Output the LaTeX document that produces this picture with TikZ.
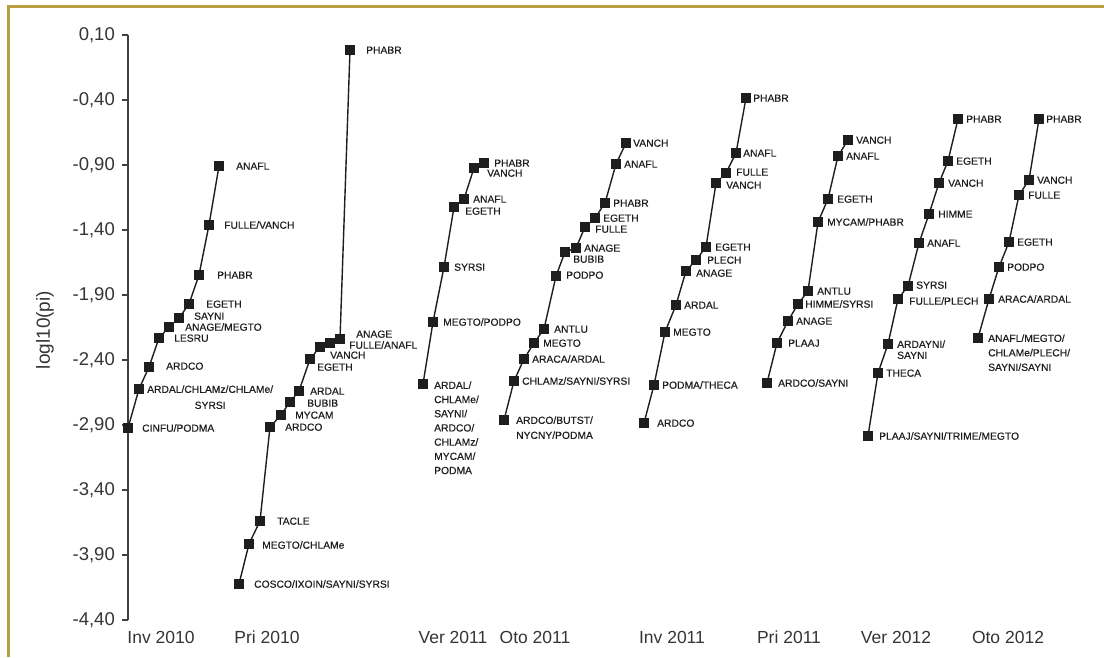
\documentclass[tikz,border=0pt]{standalone}
\usepackage{fontspec}
\setmainfont{Liberation Sans}
\newfontface\lbfont[FakeBold=0.4]{Liberation Sans}
\definecolor{gold}{RGB}{184,158,66}
\definecolor{ink}{RGB}{30,30,30}
\tikzset{
  mk/.style={rectangle, fill=ink, draw=none, minimum size=9.5pt, inner sep=0pt},
  lb/.style={anchor=west, inner sep=0pt, text=ink, text height=7.4pt, text depth=0pt,
             font=\lbfont\fontsize{10.3}{14.5}\selectfont},
  lbm/.style={anchor=north west, inner sep=0pt, text=ink, align=left,
             font=\lbfont\fontsize{10.3}{14.5}\selectfont},
  conn/.style={line width=1.4pt, draw=ink},
  ticklab/.style={anchor=east, inner sep=0pt, text=ink!90, font=\fontsize{18.5}{20}\selectfont},
  xlab/.style={anchor=center, inner sep=0pt, text=ink!90, font=\fontsize{17.5}{20}\selectfont},
}
\newcommand\mkp[6]{\node[mk] (#1) at (#2,#3) {}; \node[lb] (#1l) at (#4,#5) {#6};}
\begin{document}
\begin{tikzpicture}[x=1pt,y=-1pt]
\useasboundingbox[fill=white] (0,0) rectangle (1104,657);
% frame
\draw[gold, line width=3pt] (8.5,657) -- (8.5,6.5) -- (1104,6.5);
% axis
\coordinate (axtop) at (128,35);
\coordinate (axbot) at (128,620);
\draw[line width=1.3pt, ink!85] (axtop) -- (axbot);
\foreach \k/\v in {0/{0,10},1/{-0,40},2/{-0,90},3/{-1,40},4/{-1,90},5/{-2,40},6/{-2,90},7/{-3,40},8/{-3,90},9/{-4,40}}{
  \draw[line width=1.3pt, ink!85] (122,35+65*\k) -- (128,35+65*\k);
  \node[ticklab] (tick\k) at (115,35+65*\k) {\v};
}
\node[xlab, rotate=90, font=\fontsize{19}{21}\selectfont] (ytitle) at (45,330) {logl10(pi)};
\node[xlab] (x1) at (161,637) {Inv 2010};
\node[xlab] (x2) at (267,637) {Pri 2010};
\node[xlab] (x3) at (453,637) {Ver 2011};
\node[xlab] (x4) at (535,637) {Oto 2011};
\node[xlab] (x5) at (672,637) {Inv 2011};
\node[xlab] (x6) at (789,637) {Pri 2011};
\node[xlab] (x7) at (896,637) {Ver 2012};
\node[xlab] (x8) at (1008,637) {Oto 2012};

% Series 1 Inv 2010
\mkp{s1a}{128}{428}{142}{428}{CINFU/PODMA}
\node[mk] (s1b) at (139,389) {};
\node[lbm, align=center] (s1bl) at (147,385.2) {ARDAL/CHLAMz/CHLAMe/\\[1.5pt]SYRSI};
\mkp{s1c}{149}{367}{166}{366}{ARDCO}
\mkp{s1d}{159}{338}{174}{338}{LESRU}
\mkp{s1e}{169}{327}{185}{327}{ANAGE/MEGTO}
\mkp{s1f}{179}{318}{194}{316}{SAYNI}
\mkp{s1g}{189}{304}{206}{304}{EGETH}
\mkp{s1h}{199}{275}{217}{275}{PHABR}
\mkp{s1i}{209}{225}{224}{225}{FULLE/VANCH}
\mkp{s1j}{219}{166}{236}{166}{ANAFL}
\draw[conn] (s1a) -- (s1b) -- (s1c) -- (s1d) -- (s1e) -- (s1f) -- (s1g) -- (s1h) -- (s1i) -- (s1j);

% Series 2 Pri 2010
\mkp{s2a}{239}{584}{254}{584}{COSCO/IXOIN/SAYNI/SYRSI}
\mkp{s2b}{249}{544}{262}{545}{MEGTO/CHLAMe}
\mkp{s2c}{260}{521}{277}{521}{TACLE}
\mkp{s2d}{270}{427}{285}{427}{ARDCO}
\mkp{s2e}{281}{415}{295}{415}{MYCAM}
\mkp{s2f}{290}{402}{307}{403}{BUBIB}
\mkp{s2g}{299}{391}{310}{391}{ARDAL}
\mkp{s2h}{310}{359}{317}{367}{EGETH}
\mkp{s2i}{320}{347}{330}{355}{VANCH}
\mkp{s2j}{330}{343}{349}{345}{FULLE/ANAFL}
\mkp{s2k}{340}{339}{356}{334}{ANAGE}
\mkp{s2l}{350}{50}{366}{50}{PHABR}
\draw[conn] (s2a) -- (s2b) -- (s2c) -- (s2d) -- (s2e) -- (s2f) -- (s2g) -- (s2h) -- (s2i) -- (s2j) -- (s2k) -- (s2l);

% Series 3 Ver 2011
\node[mk] (s3a) at (423,384) {};
\node[lbm, font=\lbfont\fontsize{10.3}{14.2}\selectfont] (s3al) at (434,381.2) {ARDAL/\\CHLAMe/\\SAYNI/\\ARDCO/\\CHLAMz/\\MYCAM/\\PODMA};
\mkp{s3b}{433}{322}{443}{322}{MEGTO/PODPO}
\mkp{s3c}{444}{267}{454}{267}{SYRSI}
\mkp{s3d}{454}{207}{465}{211}{EGETH}
\mkp{s3e}{464}{199}{473}{199}{ANAFL}
\mkp{s3f}{474}{168}{487}{173}{VANCH}
\mkp{s3g}{484}{163}{494}{163}{PHABR}
\draw[conn] (s3a) -- (s3b) -- (s3c) -- (s3d) -- (s3e) -- (s3f) -- (s3g);

% Series 4 Oto 2011
\node[mk] (s4a) at (504,420) {};
\node[lbm, font=\lbfont\fontsize{10.3}{15}\selectfont] (s4al) at (516,416.2) {ARDCO/BUTST/\\NYCNY/PODMA};
\mkp{s4b}{514}{381}{522}{381}{CHLAMz/SAYNI/SYRSI}
\mkp{s4c}{524}{359}{532}{359}{ARACA/ARDAL}
\mkp{s4d}{534}{343}{543}{343}{MEGTO}
\mkp{s4e}{544}{329}{554}{329}{ANTLU}
\mkp{s4f}{556}{276}{566}{275}{PODPO}
\mkp{s4g}{565}{252}{573}{259}{BUBIB}
\mkp{s4h}{576}{248}{584}{248}{ANAGE}
\mkp{s4i}{585}{227}{595}{229}{FULLE}
\mkp{s4j}{595}{218}{603}{218}{EGETH}
\mkp{s4k}{605}{203}{613}{203}{PHABR}
\mkp{s4l}{616}{164}{624}{164}{ANAFL}
\mkp{s4m}{626}{143}{633}{143}{VANCH}
\draw[conn] (s4a) -- (s4b) -- (s4c) -- (s4d) -- (s4e) -- (s4f) -- (s4g) -- (s4h) -- (s4i) -- (s4j) -- (s4k) -- (s4l) -- (s4m);

% Series 5 Inv 2011
\mkp{s5a}{644}{423}{657}{423}{ARDCO}
\mkp{s5b}{654}{385}{662}{385}{PODMA/THECA}
\mkp{s5c}{665}{332}{673}{332}{MEGTO}
\mkp{s5d}{676}{305}{684}{305}{ARDAL}
\mkp{s5e}{686}{271}{696}{273}{ANAGE}
\mkp{s5f}{696}{260}{707}{260}{PLECH}
\mkp{s5g}{706}{247}{715}{247}{EGETH}
\mkp{s5h}{716}{183}{726}{185}{VANCH}
\mkp{s5i}{726}{173}{736}{172}{FULLE}
\mkp{s5j}{736}{153}{743}{153}{ANAFL}
\mkp{s5k}{746}{98}{753}{98}{PHABR}
\draw[conn] (s5a) -- (s5b) -- (s5c) -- (s5d) -- (s5e) -- (s5f) -- (s5g) -- (s5h) -- (s5i) -- (s5j) -- (s5k);

% Series 6 Pri 2011
\mkp{s6a}{767}{383}{778}{383}{ARDCO/SAYNI}
\mkp{s6b}{777}{343}{788}{343}{PLAAJ}
\mkp{s6c}{788}{321}{796}{321}{ANAGE}
\mkp{s6d}{798}{304}{805}{304}{HIMME/SYRSI}
\mkp{s6e}{808}{291}{817}{291}{ANTLU}
\mkp{s6f}{818}{222}{827}{222}{MYCAM/PHABR}
\mkp{s6g}{828}{199}{837}{199}{EGETH}
\mkp{s6h}{838}{156}{846}{156}{ANAFL}
\mkp{s6i}{848}{140}{856}{140}{VANCH}
\draw[conn] (s6a) -- (s6b) -- (s6c) -- (s6d) -- (s6e) -- (s6f) -- (s6g) -- (s6h) -- (s6i);

% Series 7 Ver 2012
\mkp{s7a}{868}{436}{879}{436}{PLAAJ/SAYNI/TRIME/MEGTO}
\mkp{s7b}{878}{373}{886}{373}{THECA}
\node[mk] (s7c) at (888,344) {};
\node[lbm, font=\lbfont\fontsize{10.3}{11}\selectfont] (s7cl) at (897,340.2) {ARDAYNI/\\SAYNI};
\mkp{s7d}{898}{299}{909}{301}{FULLE/PLECH}
\mkp{s7e}{908}{286}{916}{285}{SYRSI}
\mkp{s7f}{919}{243}{927}{243}{ANAFL}
\mkp{s7g}{929}{214}{938}{214}{HIMME}
\mkp{s7h}{939}{183}{948}{183}{VANCH}
\mkp{s7i}{948}{161}{956}{161}{EGETH}
\mkp{s7j}{958}{119}{966}{119}{PHABR}
\draw[conn] (s7a) -- (s7b) -- (s7c) -- (s7d) -- (s7e) -- (s7f) -- (s7g) -- (s7h) -- (s7i) -- (s7j);

% Series 8 Oto 2012
\node[mk] (s8a) at (978,338) {};
\node[lbm, font=\lbfont\fontsize{10.3}{14.5}\selectfont] (s8al) at (988,334.2) {ANAFL/MEGTO/\\CHLAMe/PLECH/\\SAYNI/SAYNI};
\mkp{s8b}{989}{299}{998}{299}{ARACA/ARDAL}
\mkp{s8c}{999}{267}{1007}{267}{PODPO}
\mkp{s8d}{1009}{242}{1017}{242}{EGETH}
\mkp{s8e}{1019}{195}{1028}{195}{FULLE}
\mkp{s8f}{1029}{180}{1037}{180}{VANCH}
\mkp{s8g}{1039}{119}{1046}{119}{PHABR}
\draw[conn] (s8a) -- (s8b) -- (s8c) -- (s8d) -- (s8e) -- (s8f) -- (s8g);
\end{tikzpicture}
\end{document}
